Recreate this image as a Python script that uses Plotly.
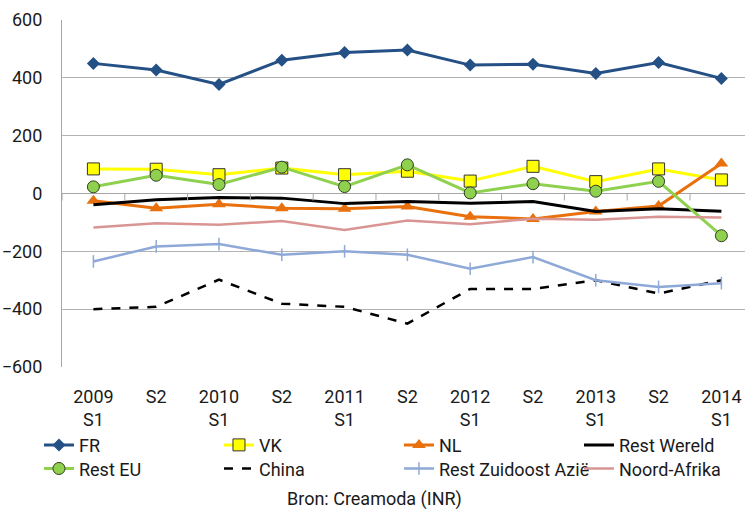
import plotly.graph_objects as go

periods = ["2009<br>S1", "S2", "2010<br>S1", "S2", "2011<br>S1", "S2",
           "2012<br>S1", "S2", "2013<br>S1", "S2", "2014<br>S1"]

fr = [450, 427, 377, 461, 488, 496, 444, 447, 415, 453, 398]
vk = [85, 84, 65, 88, 65, 77, 43, 94, 41, 85, 47]
nl = [-25, -51, -37, -51, -53, -45, -80, -88, -62, -43, 104]
rest_wereld = [-39, -22, -14, -16, -35, -28, -34, -28, -62, -53, -61]
rest_eu = [23, 63, 31, 91, 24, 99, 2, 34, 8, 42, -146]
china = [-400, -392, -298, -381, -392, -450, -330, -330, -300, -346, -300]
rest_za = [-235, -183, -175, -212, -200, -212, -260, -220, -300, -323, -310]
noord_afrika = [-118, -103, -108, -95, -126, -93, -106, -87, -91, -80, -83]

y_ticks = [600, 400, 200, 0, -200, -400, -600]

FONT = "Roboto, Liberation Sans, sans-serif"
TXT = "#1a1a1a"

x = list(range(len(periods)))

fig = go.Figure()

def add(name, y, color, width, legend, symbol=None, msize=0, mfill=None, mline=None, dash="solid"):
    mode = "lines+markers" if symbol else "lines"
    marker = None
    if symbol:
        marker = dict(symbol=symbol, size=msize, color=mfill or color,
                      line=dict(color=mline or color, width=1 if mline else 0))
    fig.add_trace(go.Scatter(x=x, y=y, name=name, mode=mode,
                             line=dict(color=color, width=width, dash=dash),
                             marker=marker, legend=legend))

add("FR", fr, "#245086", 3, "legend", "diamond", 10)
add("VK", vk, "#FFFF00", 3, "legend", "square", 12, "#FFFF00", "#333333")
add("NL", nl, "#E8700D", 3, "legend", "triangle-up", 12)
add("Rest Wereld", rest_wereld, "#000000", 3, "legend")
add("Rest EU", rest_eu, "#8FD14F", 3, "legend2", "circle", 12, "#8FD14F", "#2f3f1f")
add("China", china, "#000000", 2.5, "legend2", dash="dash")
fig.add_trace(go.Scatter(x=x, y=rest_za, name="Rest Zuidoost Azië", mode="lines+markers",
                         line=dict(color="#8EA9D8", width=2.5),
                         marker=dict(symbol="line-ns", size=9,
                                     line=dict(color="#8EA9D8", width=1.5)),
                         legend="legend2"))
add("Noord-Afrika", noord_afrika, "#D99594", 2.5, "legend2")

# tick marks on the category axis crossing at zero
for i in range(len(periods)):
    fig.add_shape(type="line", xref="x", yref="y", x0=i - 0.5, x1=i - 0.5,
                  ysizemode="pixel", yanchor=0, y0=0, y1=-7,
                  line=dict(color="#a6a6a6", width=1))

LEG_FONT = dict(family=FONT, size=18, color=TXT)

fig.update_layout(
    width=745, height=509,
    margin=dict(l=62, r=0, t=20, b=141.5, autoexpand=False),
    paper_bgcolor="white", plot_bgcolor="white",
    font=dict(family=FONT, size=18, color=TXT),
    showlegend=True,
    legend=dict(orientation="h", x=-0.0337, xanchor="left", y=-0.172, yanchor="top",
                entrywidth=135, entrywidthmode="pixels", font=LEG_FONT,
                bgcolor="rgba(0,0,0,0)", tracegroupgap=0),
    legend2=dict(orientation="h", x=-0.0337, xanchor="left", y=-0.240, yanchor="top",
                 entrywidth=135, entrywidthmode="pixels", font=LEG_FONT,
                 bgcolor="rgba(0,0,0,0)", tracegroupgap=0),
    annotations=[dict(text="Bron: Creamoda (INR)", xref="paper", yref="paper",
                      x=0.458, y=-0.381, xanchor="center", yanchor="middle",
                      showarrow=False, font=dict(family=FONT, size=18, color=TXT))],
)

fig.update_xaxes(range=[-0.5, 10.376], tickvals=x, ticktext=periods,
                 showgrid=False, zeroline=False, showline=False, ticks="",
                 ticklabelstandoff=17, tickfont=dict(family=FONT, size=18, color=TXT))
fig.update_yaxes(range=[-600, 600], tickvals=y_ticks, showgrid=True,
                 gridcolor="#b3b3b3", gridwidth=1, zeroline=True,
                 zerolinecolor="#a6a6a6", zerolinewidth=1.2,
                 showline=True, linecolor="#a6a6a6", linewidth=1.2,
                 ticks="", ticklabelstandoff=15,
                 tickfont=dict(family=FONT, size=18, color=TXT))

fig.write_html("out.html", config={"displayModeBar": False},
               post_script="document.body.style.margin='0';document.body.style.overflow='hidden';")
